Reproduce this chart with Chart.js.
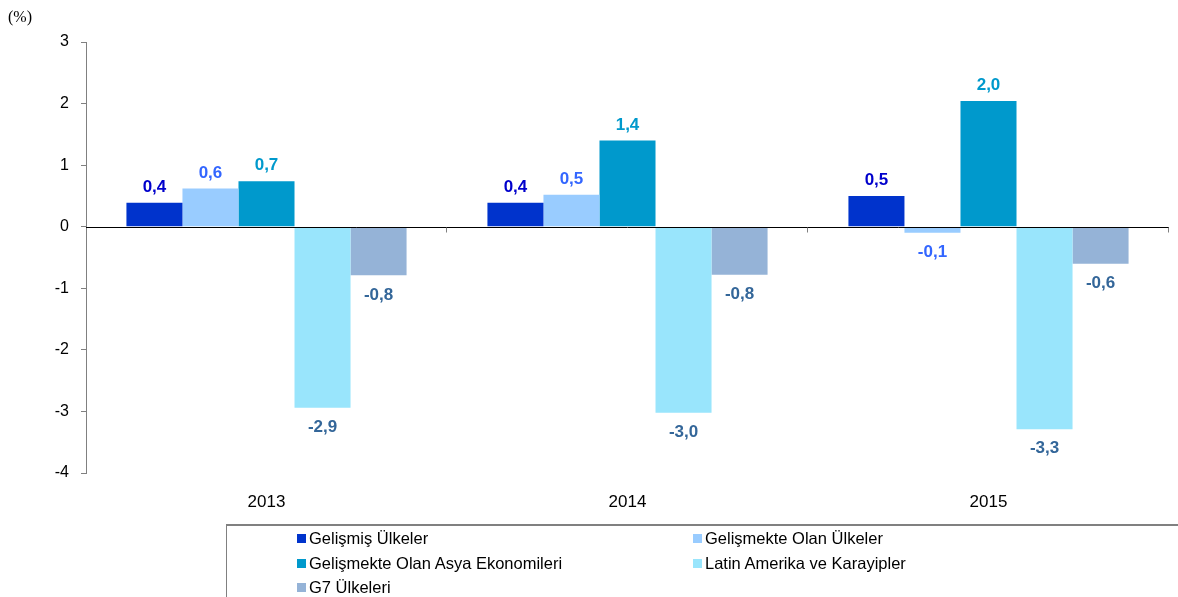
<!DOCTYPE html>
<html>
<head>
<meta charset="utf-8">
<script src="https://cdn.jsdelivr.net/npm/chart.js@4"></script>
<style>
  html, body { margin: 0; padding: 0; background: #fff; }
  #wrap { position: relative; width: 1178px; height: 597px; overflow: hidden; }
  #unit { position: absolute; left: 8px; top: 8px; font: 16px "Times New Roman", "Liberation Serif", serif; color: #000; }
  #legend {
    position: absolute; left: 226px; top: 524px; width: 1000px; height: 90px;
    border: 1px solid #808080; border-top-width: 2px; box-sizing: border-box;
    font: 16.5px Arial, "Liberation Sans", sans-serif; color: #000;
  }
  .item { position: absolute; display: flex; align-items: center; white-space: nowrap; line-height: 19px; }
  .sw { width: 9px; height: 9px; margin-right: 3px; }
</style>
</head>
<body>
<div id="wrap">
  <canvas id="chart" width="1178" height="597"></canvas>
  <div id="unit">(%)</div>
  <div id="legend"></div>
</div>
<script>
// Dünya ekonomisi büyüme / değişim oranları (%)
const years = ['2013', '2014', '2015'];

const seriesNames = [
    'Gelişmiş Ülkeler',
    'Gelişmekte Olan Ülkeler',
    'Gelişmekte Olan Asya Ekonomileri',
    'Latin Amerika ve Karayipler',
    'G7 Ülkeleri',
];

const gelismis = [0.39, 0.39, 0.50];
const gelismekte = [0.62, 0.52, -0.10];
const asya = [0.74, 1.40, 2.04];
const latinAmerika = [-2.94, -3.02, -3.29];
const g7 = [-0.79, -0.78, -0.60];

const yTicks = [3, 2, 1, 0, -1, -2, -3, -4];

const barColors = ['#0033CC', '#99CCFF', '#0099CC', '#99E5FC', '#95B3D7'];
const labelColors = ['#0000CC', '#3366FF', '#0099CC', '#336699', '#336699'];

const FONT = 'Arial, "Liberation Sans", sans-serif';

// value labels (0,4 style) above / below the bars
const valueLabels = {
    id: 'valueLabels',
    afterDatasetsDraw(chart) {
        const ctx = chart.ctx;
        ctx.save();
        ctx.font = 'bold 17px ' + FONT;
        ctx.textAlign = 'center';
        chart.data.datasets.forEach((ds, i) => {
            const meta = chart.getDatasetMeta(i);
            meta.data.forEach((bar, j) => {
                const v = ds.data[j];
                const txt = v.toFixed(1).replace('.', ',');
                ctx.fillStyle = labelColors[i];
                if (v >= 0) {
                    ctx.textBaseline = 'alphabetic';
                    ctx.fillText(txt, bar.x, bar.y - 11);
                } else {
                    ctx.textBaseline = 'top';
                    ctx.fillText(txt, bar.x, bar.y + 11);
                }
            });
        });
        ctx.restore();
    },
};

// zero line with category separators
const zeroLine = {
    id: 'zeroLine',
    afterDatasetsDraw(chart) {
        const { ctx, chartArea, scales } = chart;
        const y0 = Math.round(scales.y.getPixelForValue(0)) + 0.5;
        ctx.save();
        ctx.strokeStyle = '#000';
        ctx.lineWidth = 1;
        ctx.beginPath();
        ctx.moveTo(chartArea.left, y0);
        ctx.lineTo(chartArea.right, y0);
        ctx.stroke();
        ctx.strokeStyle = '#808080';
        const step = (chartArea.right - chartArea.left) / years.length;
        for (let i = 1; i <= years.length; i++) {
            const x = Math.round(chartArea.left + step * i) - 0.5;
            ctx.beginPath();
            ctx.moveTo(x, y0);
            ctx.lineTo(x, y0 + 5);
            ctx.stroke();
        }
        ctx.restore();
    },
};

const allSeries = [gelismis, gelismekte, asya, latinAmerika, g7];

new Chart(document.getElementById('chart'), {
    type: 'bar',
    data: {
        labels: years,
        datasets: allSeries.map((d, i) => ({
            label: seriesNames[i],
            data: d,
            backgroundColor: barColors[i],
            borderWidth: 0,
            categoryPercentage: 0.776,
            barPercentage: 1,
        })),
    },
    options: {
        responsive: false,
        animation: false,
        layout: { padding: { top: 42, right: 9, left: 0, bottom: 0 } },
        plugins: {
            legend: { display: false },
            tooltip: { enabled: false },
        },
        scales: {
            x: {
                grid: { display: false },
                border: { display: false },
                ticks: { color: '#000', font: { size: 17, family: FONT }, padding: 11 },
                afterFit(scale) { scale.height = 124; },
            },
            y: {
                min: -4,
                max: 3,
                afterBuildTicks(scale) { scale.ticks = yTicks.map(v => ({ value: v })); },
                ticks: {
                    color: '#000',
                    font: { size: 16, family: FONT },
                    padding: 12,
                    callback: v => String(v),
                },
                grid: { drawOnChartArea: false, tickLength: 5, color: '#808080' },
                border: { color: '#808080' },
                afterFit(scale) { scale.width = 86; },
            },
        },
    },
    plugins: [zeroLine, valueLabels],
});

// legend in two columns, as in the original
const legendEl = document.getElementById('legend');
const legendPos = [[70, 3], [466, 3], [70, 28], [466, 28], [70, 52]];
seriesNames.forEach((name, i) => {
    const it = document.createElement('div');
    it.className = 'item';
    it.style.left = legendPos[i][0] + 'px';
    it.style.top = legendPos[i][1] + 'px';
    it.innerHTML = '<span class="sw" style="background:' + barColors[i] + '"></span>' + name;
    legendEl.appendChild(it);
});
</script>
</body>
</html>
